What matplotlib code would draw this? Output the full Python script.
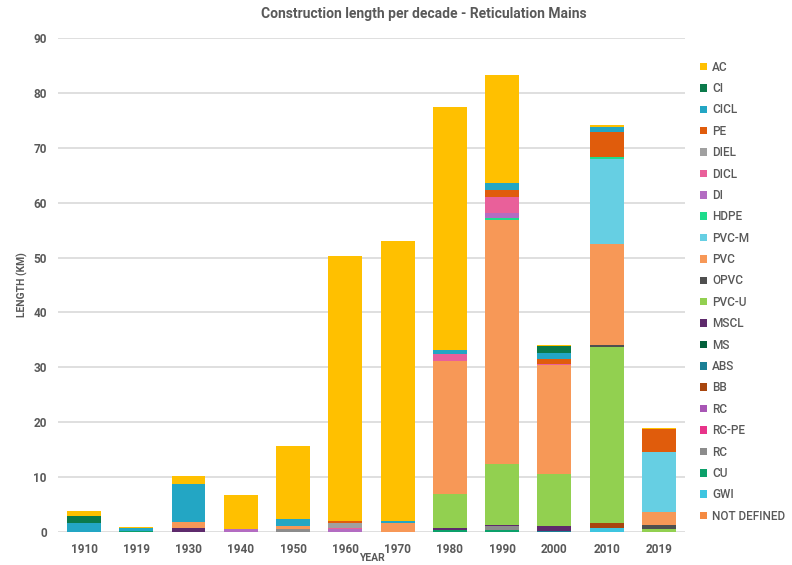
import numpy as np
import matplotlib.pyplot as plt
from matplotlib.patches import Patch

plt.rcParams['font.family'] = ['Roboto', 'DejaVu Sans']

decades = ['1910', '1919', '1930', '1940', '1950', '1960', '1970', '1980', '1990', '2000', '2010', '2019']

# material lengths (km) per decade, listed from bottom of stack to top
not_defined = [0, 0, 0, 0, 0, 0, 0, 0, 0, 0, 0, 0]
gwi = [0, 0, 0, 0, 0, 0, 0, 0, 0, 0, 0.7, 0]
cu = [0, 0.1, 0, 0, 0, 0, 0, 0.3, 0.3, 0, 0, 0]
rc = [0, 0, 0, 0, 0.5, 0, 0, 0, 0.8, 0, 0, 0]
rc_pe = [0, 0, 0, 0, 0, 0, 0, 0, 0, 0, 0, 0]
rc2 = [0, 0, 0, 0, 0, 0, 0, 0, 0, 0, 0, 0]
bb = [0, 0, 0, 0, 0, 0, 0, 0, 0, 0, 0.9, 0]
abs_ = [0, 0, 0, 0, 0, 0, 0, 0, 0, 0.2, 0, 0]
ms = [0, 0, 0, 0, 0, 0, 0, 0, 0, 0, 0, 0]
mscl = [0, 0, 0.8, 0, 0, 0, 0, 0.5, 0.2, 0.9, 0, 0]
pvc_u = [0, 0, 0, 0, 0, 0, 0, 6.2, 11.1, 9.5, 32.1, 0.5]
opvc = [0, 0, 0, 0, 0, 0, 0, 0, 0, 0, 0.4, 0.8]
pvc = [0, 0, 1.0, 0, 0.6, 0, 1.6, 24.2, 44.4, 19.8, 18.4, 2.4]
pvc_m = [0, 0, 0, 0, 0, 0, 0, 0, 0, 0, 15.4, 10.9]
hdpe = [0, 0, 0, 0, 0, 0, 0, 0, 0.4, 0, 0.5, 0]
di = [0, 0, 0, 0.5, 0, 0.6, 0, 0, 0.9, 0, 0, 0]
dicl = [0, 0, 0, 0, 0, 0.2, 0, 1.3, 2.9, 0.3, 0, 0]
diel = [0, 0, 0, 0, 0, 0.9, 0, 0, 0, 0, 0, 0]
pe = [0, 0, 0, 0, 0, 0.3, 0, 0, 1.4, 0.9, 4.4, 4.2]
cicl = [1.6, 0.6, 6.9, 0, 1.2, 0, 0.4, 0.7, 1.1, 1.1, 0.9, 0]
ci = [1.4, 0, 0, 0, 0, 0, 0, 0, 0, 1.1, 0, 0]
ac = [0.8, 0.2, 1.5, 6.2, 13.4, 48.3, 51.0, 44.2, 19.8, 0.2, 0.5, 0.2]

series = [
    ('NOT DEFINED', not_defined, '#F58A42'),
    ('GWI', gwi, '#3EC5E0'),
    ('CU', cu, '#0CA06A'),
    ('RC', rc, '#8C8C8C'),
    ('RC-PE', rc_pe, '#E8348A'),
    ('RC', rc2, '#A856B5'),
    ('BB', bb, '#A8460E'),
    ('ABS', abs_, '#1A7F95'),
    ('MS', ms, '#03613B'),
    ('MSCL', mscl, '#5E2A6C'),
    ('PVC-U', pvc_u, '#92D050'),
    ('OPVC', opvc, '#4F4F4F'),
    ('PVC', pvc, '#F79857'),
    ('PVC-M', pvc_m, '#66CFE3'),
    ('HDPE', hdpe, '#1EDC8C'),
    ('DI', di, '#B36CC2'),
    ('DICL', dicl, '#E9609A'),
    ('DIEL', diel, '#A0A0A0'),
    ('PE', pe, '#E05C0C'),
    ('CICL', cicl, '#23A6C4'),
    ('CI', ci, '#0B7A4B'),
    ('AC', ac, '#FFC000'),
]

grey = '#595959'

fig = plt.figure(figsize=(7.92, 5.65), dpi=100)
ax = fig.add_axes([0.073, 0.0584, 0.792, 0.8743])

x = np.arange(len(decades))
bottom = np.zeros(len(decades))
handles = []
for name, vals, col in series:
    vals = np.array(vals, dtype=float)
    ax.bar(x, vals, 0.65, bottom=bottom, color=col, linewidth=0, zorder=3)
    bottom += vals
    handles.append(Patch(facecolor=col, label=name))

ax.set_xlim(-0.5, len(decades) - 0.5)
ax.set_ylim(0, 90)
ax.set_yticks(range(0, 91, 10))
ax.set_xticks(x)
ax.set_xticklabels(decades)
ax.grid(axis='y', color='#D9D9D9', linewidth=1.2, zorder=0)
for s in ax.spines.values():
    s.set_visible(False)
ax.tick_params(length=0, colors=grey, labelsize=8.5, pad=8)
for lab in ax.get_xticklabels() + ax.get_yticklabels():
    lab.set_fontweight('bold')

ax.set_ylabel('LENGTH (KM)', fontsize=7.5, fontweight='bold', color=grey, labelpad=4)
fig.text(0.469, 0.003, 'YEAR', fontsize=7.5, fontweight='bold', color=grey, ha='center', va='bottom')
fig.text(0.535, 0.975, 'Construction length per decade - Reticulation Mains',
         fontsize=10, fontweight='bold', color=grey, ha='center', va='center')

leg = fig.legend(handles=handles[::-1], loc='upper left', bbox_to_anchor=(0.878, 0.901),
                 frameon=False, fontsize=8.5, handlelength=0.6, handleheight=0.6,
                 handletextpad=0.4, labelspacing=0.71, borderaxespad=0)
for t in leg.get_texts():
    t.set_color(grey)
    t.set_fontweight('medium')

fig.savefig('out.png', dpi=100)
